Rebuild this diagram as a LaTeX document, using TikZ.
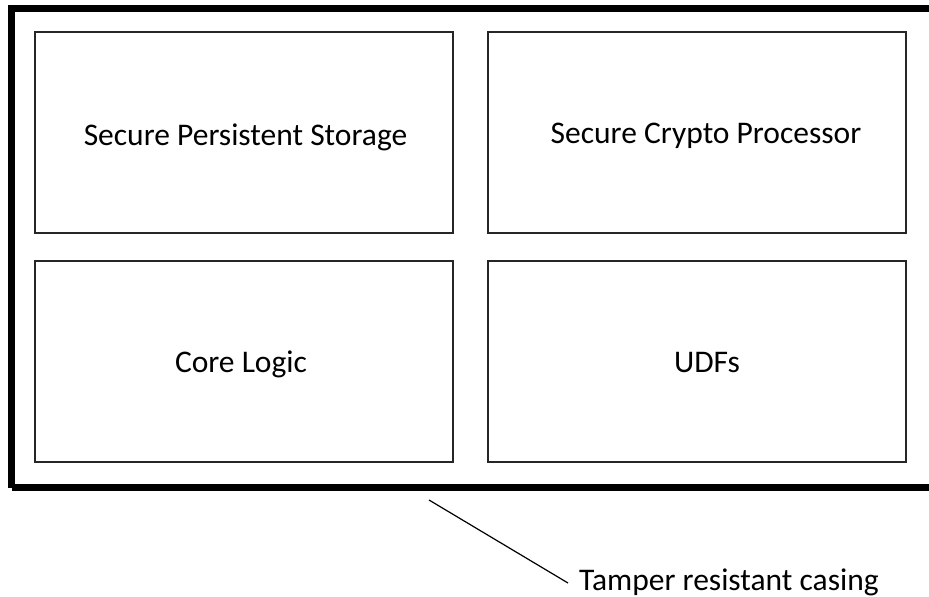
\documentclass[tikz,border=0pt]{standalone}
\usepackage{fontspec}
\setmainfont{Carlito}
\begin{document}
\begin{tikzpicture}[x=1pt,y=-1pt,
  inbox/.style={draw=black!85,line width=1.5pt,inner sep=0pt,minimum width=418pt,minimum height=201pt,anchor=north west},
  lbl/.style={font=\fontsize{31.5}{36}\selectfont,anchor=base,inner sep=0pt}]
\useasboundingbox (0,0) rectangle (929,597);
\draw[line width=7pt] (11.5,487.5) -- (11.5,8.5) -- (940,8.5) (11.5,487.5) -- (940,487.5);
\coordinate (casing) at (429,500);
\node[inbox] (b1) at (34,31) {};
\node[inbox] (b2) at (487,31) {};
\node[inbox] (b3) at (34,260) {};
\node[inbox] (b4) at (487,260) {};
\node[lbl] (t1) at (245.5,145) {Secure Persistent Storage};
\node[lbl] (t2) at (706,143) {Secure Crypto Processor};
\node[lbl] (t3) at (241,372) {Core Logic};
\node[lbl] (t4) at (707,372) {UDFs};
\node[lbl,anchor=base west] (tc) at (579,590) {Tamper resistant casing};
\coordinate (lineend) at (568,583);
\draw[line width=1.2pt] (casing) -- (lineend);
\end{tikzpicture}
\end{document}
